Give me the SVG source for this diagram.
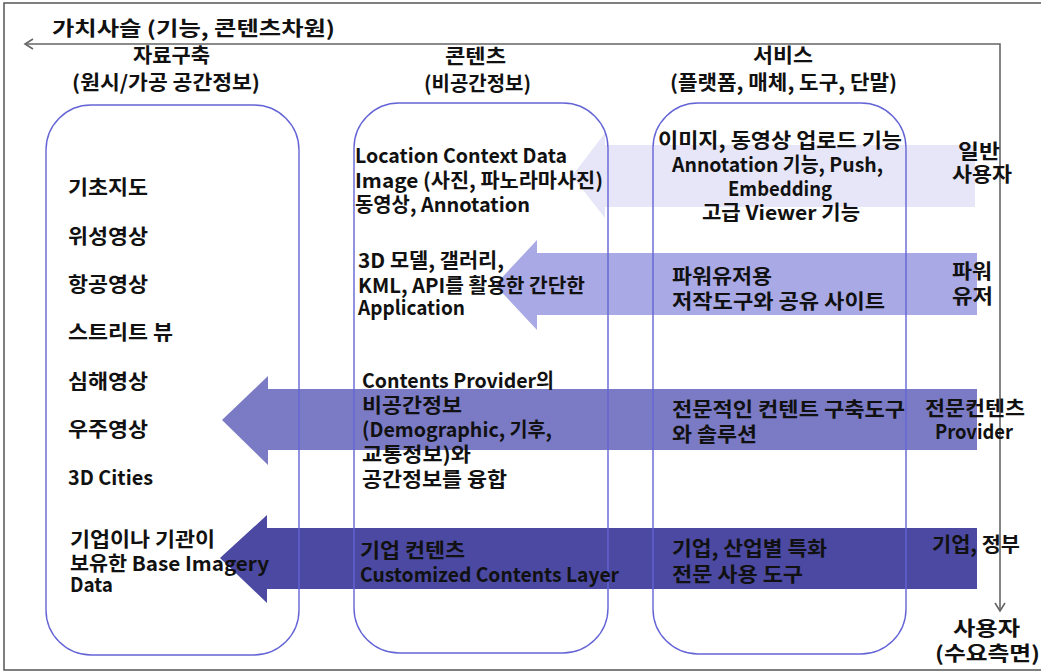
<svg xmlns="http://www.w3.org/2000/svg" width="1041" height="672" viewBox="0 0 1041 672">
<style>
.t{font-family:"Noto Sans CJK KR","Noto Sans",sans-serif;font-weight:bold;font-size:20px;fill:#111}
.box{fill:none;stroke:#6464d6;stroke-width:1.4}
.axis{fill:none;stroke:#666;stroke-width:1.6}
</style>
<defs>
<marker id="chev" markerUnits="userSpaceOnUse" markerWidth="14" markerHeight="14" viewBox="-10 -7 12 14" refX="0" refY="0" orient="auto-start-reverse">
<path d="M-8,-5 L0,0 L-8,5" fill="none" stroke="#666" stroke-width="1.6"/>
</marker>
</defs>
<rect x="0" y="0" width="1041" height="672" fill="#fff"/>
<rect x="4" y="3" width="1045" height="667" fill="none" stroke="#555" stroke-width="1.5"/>

<g id="arrow-general"><polygon points="975,145 605,145 605,133 572,176 605,218 605,207 975,207" fill="#e6e6f8"/></g>
<g id="arrow-power"><polygon points="977,253 537,253 537,240 495,285 537,330 537,315 977,315" fill="#a9a9e6"/></g>
<g id="arrow-provider"><polygon points="977,389 268,389 268,376 222,420 268,465 268,450 977,450" fill="#7b7bc5"/></g>
<g id="arrow-enterprise"><polygon points="977,528 267,528 267,515 220,558 267,603 267,589 977,589" fill="#4b49a2"/></g>

<g id="connectors">
<path class="axis" d="M25,44 H1000 V611" marker-start="url(#chev)" marker-end="url(#chev)"/>
</g>

<g id="title"><text class="t" x="52" y="36" textLength="283" lengthAdjust="spacingAndGlyphs">가치사슬 (기능, 콘텐츠차원)</text></g>

<g id="col-data">
<text class="t" x="133" y="63" textLength="77" lengthAdjust="spacingAndGlyphs">자료구축</text>
<text class="t" x="72" y="90" textLength="188" lengthAdjust="spacingAndGlyphs">(원시/가공 공간정보)</text>
<rect class="box" x="46" y="105" width="253" height="550" rx="45" ry="45"/>
<text class="t" x="68" y="195" textLength="80" lengthAdjust="spacingAndGlyphs">기초지도</text>
<text class="t" x="68" y="244" textLength="80" lengthAdjust="spacingAndGlyphs">위성영상</text>
<text class="t" x="68" y="292" textLength="80" lengthAdjust="spacingAndGlyphs">항공영상</text>
<text class="t" x="68" y="340" textLength="105" lengthAdjust="spacingAndGlyphs">스트리트 뷰</text>
<text class="t" x="68" y="389" textLength="80" lengthAdjust="spacingAndGlyphs">심해영상</text>
<text class="t" x="68" y="437" textLength="80" lengthAdjust="spacingAndGlyphs">우주영상</text>
<text class="t" x="68" y="485" textLength="85" lengthAdjust="spacingAndGlyphs">3D Cities</text>
<text class="t" x="70" y="547" textLength="145" lengthAdjust="spacingAndGlyphs">기업이나 기관이</text>
<text class="t" x="70" y="571" textLength="199" lengthAdjust="spacingAndGlyphs">보유한 Base Imagery</text>
<text class="t" x="70" y="592" textLength="43" lengthAdjust="spacingAndGlyphs">Data</text>
</g>

<g id="col-contents">
<text class="t" x="445" y="64" textLength="61" lengthAdjust="spacingAndGlyphs">콘텐츠</text>
<text class="t" x="424" y="91" textLength="107" lengthAdjust="spacingAndGlyphs">(비공간정보)</text>
<rect class="box" x="354" y="103" width="254" height="550" rx="45" ry="45"/>
<text class="t" x="355" y="163" textLength="212" lengthAdjust="spacingAndGlyphs">Location Context Data</text>
<text class="t" x="355" y="188" textLength="248" lengthAdjust="spacingAndGlyphs">Image (사진, 파노라마사진)</text>
<text class="t" x="355" y="212" textLength="175" lengthAdjust="spacingAndGlyphs">동영상, Annotation</text>
<text class="t" x="358" y="268" textLength="146" lengthAdjust="spacingAndGlyphs">3D 모델, 갤러리,</text>
<text class="t" x="358" y="293" textLength="227" lengthAdjust="spacingAndGlyphs">KML, API를 활용한 간단한</text>
<text class="t" x="358" y="315" textLength="107" lengthAdjust="spacingAndGlyphs">Application</text>
<text class="t" x="362" y="388" textLength="192" lengthAdjust="spacingAndGlyphs">Contents Provider의</text>
<text class="t" x="362" y="413" textLength="100" lengthAdjust="spacingAndGlyphs">비공간정보</text>
<text class="t" x="362" y="437" textLength="190" lengthAdjust="spacingAndGlyphs">(Demographic, 기후,</text>
<text class="t" x="362" y="462" textLength="109" lengthAdjust="spacingAndGlyphs">교통정보)와</text>
<text class="t" x="362" y="487" textLength="145" lengthAdjust="spacingAndGlyphs">공간정보를 융합</text>
<text class="t" x="360" y="558" textLength="105" lengthAdjust="spacingAndGlyphs">기업 컨텐츠</text>
<text class="t" x="360" y="582" textLength="259" lengthAdjust="spacingAndGlyphs">Customized Contents Layer</text>
</g>

<g id="col-service">
<text class="t" x="753" y="63" textLength="60" lengthAdjust="spacingAndGlyphs">서비스</text>
<text class="t" x="670" y="90" textLength="227" lengthAdjust="spacingAndGlyphs">(플랫폼, 매체, 도구, 단말)</text>
<rect class="box" x="653" y="103" width="253" height="551" rx="45" ry="45"/>
<text class="t" x="658" y="148" textLength="244" lengthAdjust="spacingAndGlyphs">이미지, 동영상 업로드 기능</text>
<text class="t" x="672" y="172" textLength="211" lengthAdjust="spacingAndGlyphs">Annotation 기능, Push,</text>
<text class="t" x="728" y="196" textLength="104" lengthAdjust="spacingAndGlyphs">Embedding</text>
<text class="t" x="702" y="220" textLength="158" lengthAdjust="spacingAndGlyphs">고급 Viewer 기능</text>
<text class="t" x="672" y="284" textLength="100" lengthAdjust="spacingAndGlyphs">파워유저용</text>
<text class="t" x="672" y="309" textLength="213" lengthAdjust="spacingAndGlyphs">저작도구와 공유 사이트</text>
<text class="t" x="672" y="417" textLength="233" lengthAdjust="spacingAndGlyphs">전문적인 컨텐트 구축도구</text>
<text class="t" x="672" y="442" textLength="85" lengthAdjust="spacingAndGlyphs">와 솔루션</text>
<text class="t" x="672" y="556" textLength="155" lengthAdjust="spacingAndGlyphs">기업, 산업별 특화</text>
<text class="t" x="672" y="582" textLength="131" lengthAdjust="spacingAndGlyphs">전문 사용 도구</text>
</g>

<g id="users">
<text class="t" x="958" y="159" textLength="42" lengthAdjust="spacingAndGlyphs">일반</text>
<text class="t" x="952" y="182" textLength="60" lengthAdjust="spacingAndGlyphs">사용자</text>
<text class="t" x="952" y="279" textLength="40" lengthAdjust="spacingAndGlyphs">파워</text>
<text class="t" x="952" y="304" textLength="41" lengthAdjust="spacingAndGlyphs">유저</text>
<text class="t" x="925" y="416" textLength="100" lengthAdjust="spacingAndGlyphs">전문컨텐츠</text>
<text class="t" x="935" y="439" textLength="78" lengthAdjust="spacingAndGlyphs">Provider</text>
<text class="t" x="932" y="552" textLength="88" lengthAdjust="spacingAndGlyphs">기업, 정부</text>
<text class="t" x="953" y="636" textLength="67" lengthAdjust="spacingAndGlyphs">사용자</text>
<text class="t" x="935" y="661" textLength="105" lengthAdjust="spacingAndGlyphs">(수요측면)</text>
</g>
</svg>
